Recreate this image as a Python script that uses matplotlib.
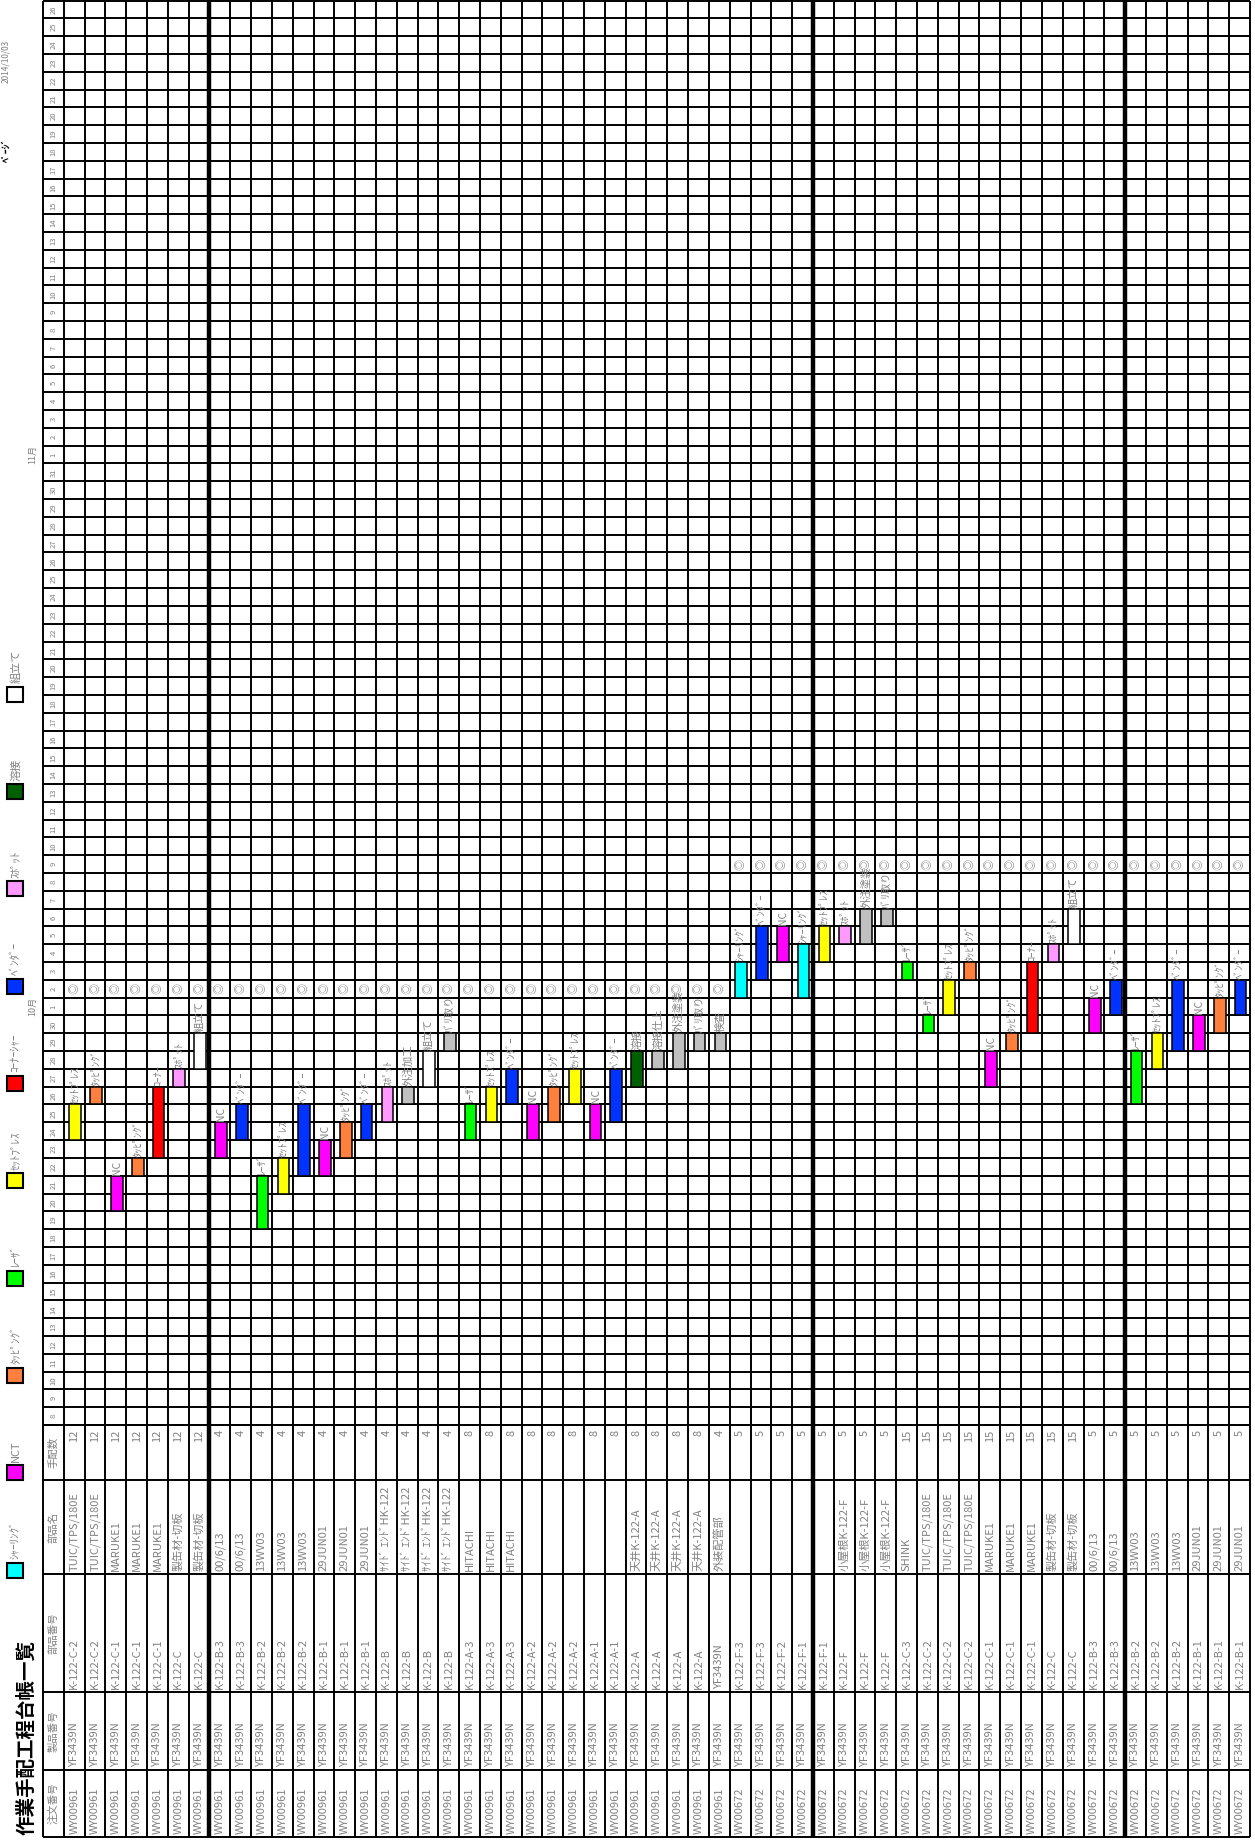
import numpy as np
import pandas as pd
import matplotlib
matplotlib.use("Agg")
import matplotlib.pyplot as plt
import matplotlib.dates as mdates
from matplotlib.patches import Rectangle

plt.rcParams['font.family'] = ['Noto Sans CJK JP', 'DejaVu Sans']

# ---------------- data ----------------
order_no = ['WY00961'] * 32 + ['WY00672'] * 25
product_no = ['YF3439N'] * 57
part_no = (['K-122-C-2'] * 2 + ['K-122-C-1'] * 3 + ['K-122-C'] * 2 +
           ['K-122-B-3'] * 2 + ['K-122-B-2'] * 3 + ['K-122-B-1'] * 3 +
           ['K-122-B'] * 4 + ['K-122-A-3'] * 3 + ['K-122-A-2'] * 3 +
           ['K-122-A-1'] * 2 + ['K-122-A'] * 4 + ['YF3439N'] +
           ['K-122-F-3'] * 2 + ['K-122-F-2'] + ['K-122-F-1'] * 2 +
           ['K-122-F'] * 3 + ['K-122-C-3'] + ['K-122-C-2'] * 3 +
           ['K-122-C-1'] * 3 + ['K-122-C'] * 2 + ['K-122-B-3'] * 2 +
           ['K-122-B-2'] * 3 + ['K-122-B-1'] * 3)
part_name = (['TUIC/TPS/180E'] * 2 + ['MARUKE1'] * 3 + ['製缶材-切板'] * 2 +
             ['00/6/13'] * 2 + ['13WV03'] * 3 + ['29JUN01'] * 3 +
             ['ｻｲﾄﾞ ｴﾝﾄﾞHK-122'] * 4 + ['HITACHI'] * 3 + [''] * 5 +
             ['天井K-122-A'] * 4 + ['外装配管部'] + [''] * 5 +
             ['小屋根K-122-F'] * 3 + ['SHINK'] + ['TUIC/TPS/180E'] * 3 +
             ['MARUKE1'] * 3 + ['製缶材-切板'] * 2 + ['00/6/13'] * 2 +
             ['13WV03'] * 3 + ['29JUN01'] * 3)
qty = ['12'] * 7 + ['4'] * 12 + ['8'] * 12 + ['4'] + ['5'] * 8 + ['15'] * 9 + ['5'] * 8
due_dates = ['10-02'] * 32 + ['10-09'] * 25
group_breaks = [7, 36, 51]

days = pd.date_range('2014-09-08', '2014-11-26')

# one bar per row
bar_row = list(range(1, 58))
bar_proc = ['P', 'T', 'N', 'T', 'C', 'SP', 'A', 'N', 'B', 'L',
            'P', 'B', 'N', 'T', 'B', 'SP', 'G', 'A', 'G', 'L',
            'P', 'B', 'N', 'T', 'P', 'N', 'B', 'W', 'G', 'G',
            'G', 'G', 'S', 'B', 'N', 'S', 'P', 'SP', 'G', 'G',
            'L', 'L', 'P', 'T', 'N', 'T', 'C', 'SP', 'A', 'N',
            'B', 'L', 'P', 'B', 'N', 'T', 'B']
bar_start = ['09-24', '09-26', '09-20', '09-22', '09-23', '09-27', '09-28', '09-23', '09-24', '09-19',
             '09-21', '09-22', '09-22', '09-23', '09-24', '09-25', '09-26', '09-27', '09-29', '09-24',
             '09-25', '09-26', '09-24', '09-25', '09-26', '09-24', '09-25', '09-27', '09-28', '09-28',
             '09-29', '09-29', '10-02', '10-03', '10-04', '10-02', '10-04', '10-05', '10-05', '10-06',
             '10-03', '09-30', '10-01', '10-03', '09-27', '09-29', '09-30', '10-04', '10-05', '09-30',
             '10-01', '09-26', '09-28', '09-29', '09-29', '09-30', '10-01']
bar_end = ['09-25', '09-26', '09-21', '09-22', '09-26', '09-27', '09-29', '09-24', '09-25', '09-21',
           '09-22', '09-25', '09-23', '09-24', '09-25', '09-26', '09-26', '09-28', '09-29', '09-25',
           '09-26', '09-27', '09-25', '09-26', '09-27', '09-25', '09-27', '09-28', '09-28', '09-29',
           '09-29', '09-29', '10-03', '10-05', '10-05', '10-04', '10-05', '10-05', '10-06', '10-06',
           '10-03', '09-30', '10-02', '10-03', '09-28', '09-29', '10-03', '10-04', '10-06', '10-01',
           '10-02', '09-28', '09-29', '10-02', '09-30', '10-01', '10-02']
# labels for the grey (other) processes, by row
other_label = {17: '外注加工', 19: 'ﾊﾞﾘ取り', 29: '溶接仕上', 30: '外注塗装',
               31: 'ﾊﾞﾘ取り', 32: '検査', 39: '外注塗装', 40: 'ﾊﾞﾘ取り'}

legend_codes = ['S', 'N', 'T', 'L', 'P', 'C', 'B', 'SP', 'W', 'A']
legend_names = ['ｼｬｰﾘﾝｸﾞ', 'NCT', 'ﾀｯﾋﾟﾝｸﾞ', 'ﾚｰｻﾞ', 'ｾｯﾄﾌﾟﾚｽ',
                'ｺｰﾅｰｼｬｰ', 'ﾍﾞﾝﾀﾞｰ', 'ｽﾎﾟｯﾄ', '溶接', '組立て']

proc_color = {'S': '#00FFFF', 'N': '#FF00FF', 'T': '#FF7F3F', 'L': '#00FF00',
              'P': '#FFFF00', 'C': '#FF0000', 'B': '#0033FF', 'SP': '#FF99FF',
              'W': '#006000', 'A': '#FFFFFF', 'G': '#C0C0C0'}
proc_label = {'S': 'ｼｬｰﾘﾝｸﾞ', 'N': 'NC', 'T': 'ﾀｯﾋﾟﾝｸﾞ', 'L': 'ﾚｰｻﾞ',
              'P': 'ｾｯﾄﾌﾟﾚｽ', 'C': 'ｺｰﾅｰ', 'B': 'ﾍﾞﾝﾀﾞｰ', 'SP': 'ｽﾎﾟｯﾄ',
              'W': '溶接', 'A': '組立て'}

col_heads = ['手配数', '部品名', '部品番号', '製品番号', '注文番号']
col_edges = [0, 55, 149, 267, 345, 412]

GRAY = '#808080'
W, H = 1255, 1843
nrow = len(order_no)

fig = plt.figure(figsize=(W / 100, H / 100), dpi=100)

# ---------------- gantt grid ----------------
ax = fig.add_axes([43 / W, (H - 1425) / H, 1207 / W, 1424.5 / H])
ax.set_xlim(-1, nrow)
ynum = mdates.date2num(days)
d0, d1 = ynum[0], ynum[-1] + 1
ax.set_ylim(d0, d1)
ax.axis('off')

ax.hlines(np.append(ynum, d1), -1, nrow, colors='black', lw=1.4, clip_on=False)
ax.vlines(np.arange(-1, nrow + 1), d0, d1, colors='black', lw=1.4, clip_on=False)
ax.vlines(group_breaks, d0, d1, colors='black', lw=3.2, clip_on=False)

for d, y in zip(days, ynum):
    ax.text(-0.5, y + 0.5, str(d.day), rotation=90, ha='center', va='center',
            fontsize=5.5, color=GRAY)
    if d.day == 1:
        ax.text(-1.48, y + 0.5, f'{d.month}月', rotation=90, ha='center',
                va='center', fontsize=6.5, color=GRAY, clip_on=False)

starts = mdates.date2num(pd.to_datetime(['2014-' + s for s in bar_start]))
ends = mdates.date2num(pd.to_datetime(['2014-' + s for s in bar_end])) + 1
bx = np.array(bar_row) - 0.5 + 0.05
ax.bar(bx, ends - starts, bottom=starts, width=0.56,
       color=[proc_color[p] for p in bar_proc], edgecolor='black',
       linewidth=1.1, zorder=3)
for r, x, top, p in zip(bar_row, bx, ends, bar_proc):
    lab = other_label.get(r, proc_label.get(p, ''))
    ax.text(x, top + 0.06, lab, rotation=90, ha='center', va='bottom',
            fontsize=7.5, color=GRAY, zorder=4)

due = mdates.date2num(pd.to_datetime(['2014-' + s for s in due_dates]))
for r, dn in enumerate(due):
    ax.text(r + 0.5, dn + 0.5, '◎', rotation=90, ha='center', va='center',
            fontsize=8, color='#999999', zorder=4)

# ---------------- table ----------------
tx = fig.add_axes([43 / W, (H - 1837) / H, 1207 / W, 412 / H])
tx.set_xlim(-1, nrow)
tx.set_ylim(col_edges[-1], 0)
tx.axis('off')
tx.hlines(col_edges, -1, nrow, colors='black', lw=1.4, clip_on=False)
tx.vlines(np.arange(-1, nrow + 1), 0, col_edges[-1], colors='black', lw=1.4, clip_on=False)
tx.vlines(group_breaks, 0, col_edges[-1], colors='black', lw=3.2, clip_on=False)

columns = [qty, part_name, part_no, product_no, order_no]
for j, (head, vals) in enumerate(zip(col_heads, columns)):
    lo, hi = col_edges[j], col_edges[j + 1]
    tx.text(-0.5, (lo + hi) / 2, head, rotation=90, ha='center', va='center',
            fontsize=7.5, color=GRAY)
    for r, v in enumerate(vals):
        if j == 0:
            tx.text(r + 0.5, lo + 5, v, rotation=90, ha='center', va='top',
                    fontsize=8, color=GRAY)
        else:
            tx.text(r + 0.5, hi - 3, v, rotation=90, ha='center', va='bottom',
                    fontsize=8, color=GRAY)

# ---------------- title / legend strip ----------------
lg = fig.add_axes([0, 0, 43 / W, 1])
lg.set_xlim(0, 43)
lg.set_ylim(H, 0)
lg.axis('off')
lg.text(27, 1835, '作業手配工程台帳一覧', rotation=90, ha='center', va='bottom',
        fontsize=14, fontweight='bold', color='black')
for k, (code, name) in enumerate(zip(legend_codes, legend_names)):
    yc = 1570 - k * 97.3
    lg.add_patch(Rectangle((7, yc - 7.5), 16, 15, facecolor=proc_color[code],
                           edgecolor='black', lw=1.5))
    lg.text(16, yc - 11, name, rotation=90, ha='center', va='bottom',
            fontsize=8, color=GRAY)
lg.text(6, 83, '2014/10/03', rotation=90, ha='center', va='bottom',
        fontsize=6, color=GRAY)
lg.text(6, 162, 'ﾍﾟｰｼﾞ', rotation=90, ha='center', va='bottom',
        fontsize=7, fontweight='bold', color='black')

fig.savefig('out.png', dpi=100)
